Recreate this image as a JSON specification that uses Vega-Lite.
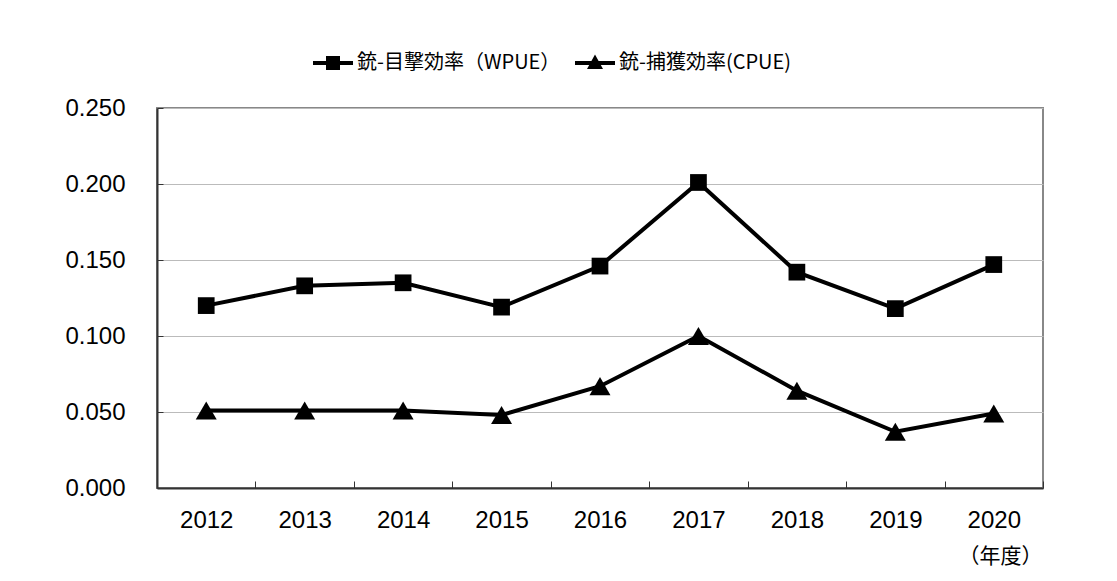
{
  "$schema": "https://vega.github.io/schema/vega-lite/v6.json",
  "width": 886,
  "height": 380,
  "autosize": {"type": "none"},
  "padding": {"left": 157, "top": 108, "right": 74, "bottom": 93},
  "background": "white",
  "config": {
    "view": {"stroke": "#888888", "strokeWidth": 2},
    "font": "Liberation Sans"
  },
  "data": {
    "values": [
      {"year": "2012", "series": "銃-目撃効率（WPUE）", "value": 0.120},
      {"year": "2013", "series": "銃-目撃効率（WPUE）", "value": 0.133},
      {"year": "2014", "series": "銃-目撃効率（WPUE）", "value": 0.135},
      {"year": "2015", "series": "銃-目撃効率（WPUE）", "value": 0.119},
      {"year": "2016", "series": "銃-目撃効率（WPUE）", "value": 0.146},
      {"year": "2017", "series": "銃-目撃効率（WPUE）", "value": 0.201},
      {"year": "2018", "series": "銃-目撃効率（WPUE）", "value": 0.142},
      {"year": "2019", "series": "銃-目撃効率（WPUE）", "value": 0.118},
      {"year": "2020", "series": "銃-目撃効率（WPUE）", "value": 0.147},
      {"year": "2012", "series": "銃-捕獲効率(CPUE)", "value": 0.051},
      {"year": "2013", "series": "銃-捕獲効率(CPUE)", "value": 0.051},
      {"year": "2014", "series": "銃-捕獲効率(CPUE)", "value": 0.051},
      {"year": "2015", "series": "銃-捕獲効率(CPUE)", "value": 0.048},
      {"year": "2016", "series": "銃-捕獲効率(CPUE)", "value": 0.067},
      {"year": "2017", "series": "銃-捕獲効率(CPUE)", "value": 0.100},
      {"year": "2018", "series": "銃-捕獲効率(CPUE)", "value": 0.064},
      {"year": "2019", "series": "銃-捕獲効率(CPUE)", "value": 0.037},
      {"year": "2020", "series": "銃-捕獲効率(CPUE)", "value": 0.049}
    ]
  },
  "encoding": {
    "x": {
      "field": "year",
      "type": "ordinal",
      "scale": {"type": "band", "paddingInner": 0, "paddingOuter": 0},
      "axis": {
        "title": "（年度）",
        "titleFont": "Noto Sans CJK JP",
        "titleFontWeight": "normal",
        "titleFontSize": 21,
        "titleColor": "black",
        "titleX": 843,
        "titleY": 57,
        "titleAlign": "center",
        "titleBaseline": "top",
        "labelAngle": 0,
        "labelFontSize": 24,
        "labelColor": "black",
        "labelPadding": 27,
        "tickBand": "extent",
        "tickSize": -7,
        "tickColor": "#333333",
        "domainColor": "#333333",
        "domainWidth": 2,
        "grid": false
      }
    },
    "y": {
      "field": "value",
      "type": "quantitative",
      "scale": {"domain": [0, 0.25], "nice": false},
      "axis": {
        "title": null,
        "values": [0, 0.05, 0.1, 0.15, 0.2, 0.25],
        "format": ".3f",
        "labelFontSize": 24,
        "labelColor": "black",
        "labelPadding": 38,
        "tickSize": -6,
        "tickColor": "#333333",
        "gridColor": "#bbbbbb",
        "gridWidth": 1,
        "domainColor": "#333333",
        "domainWidth": 2
      }
    }
  },
  "layer": [
    {
      "mark": {"type": "line", "color": "black", "strokeWidth": 4},
      "encoding": {"detail": {"field": "series"}}
    },
    {
      "mark": {"type": "point", "filled": true, "color": "black", "opacity": 1},
      "encoding": {
        "shape": {
          "field": "series",
          "scale": {"domain": ["銃-目撃効率（WPUE）", "銃-捕獲効率(CPUE)"], "range": ["square", "triangle-up"]},
          "legend": null
        },
        "size": {
          "field": "series",
          "scale": {"domain": ["銃-目撃効率（WPUE）", "銃-捕獲効率(CPUE)"], "range": [280, 440]},
          "legend": null
        }
      }
    },
    {
      "mark": {"type": "point", "filled": true, "color": "black", "opacity": 0},
      "encoding": {
        "shape": {
          "field": "series",
          "scale": {
            "domain": ["銃-目撃効率（WPUE）", "銃-捕獲効率(CPUE)"],
            "range": [
              "M-1,-0.1H1V0.1H-1Z M-0.35,-0.35H0.35V0.35H-0.35Z",
              "M-1,-0.1H1V0.1H-1Z M0,-0.42L0.4,0.3H-0.4Z"
            ]
          },
          "legend": {
            "orient": "none",
            "legendX": 156,
            "legendY": -65,
            "direction": "horizontal",
            "title": null,
            "symbolSize": 1600,
            "symbolOpacity": 1,
            "symbolFillColor": "black",
            "symbolStrokeWidth": 0,
            "labelFont": "Noto Sans CJK JP",
            "labelFontSize": 20,
            "labelColor": "black",
            "labelOffset": 4,
            "labelLimit": 0,
            "columnPadding": 14
          }
        }
      }
    }
  ],
  "resolve": {"scale": {"shape": "independent", "size": "independent"}}
}
